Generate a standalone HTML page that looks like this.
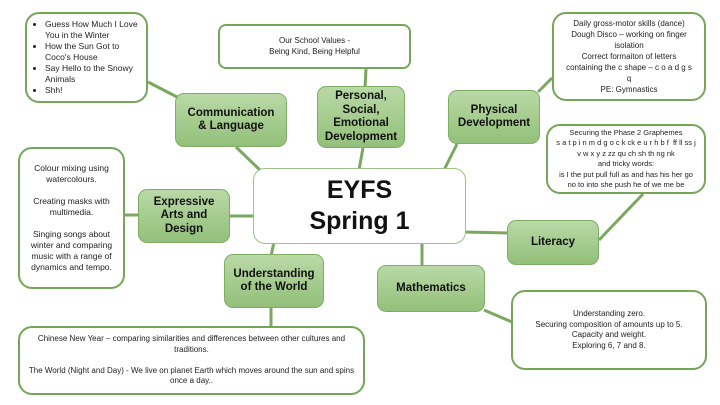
<!DOCTYPE html>
<html><head><meta charset="utf-8"><style>
body{margin:0;width:720px;height:405px;background:#fff;position:relative;overflow:hidden;font-family:"Liberation Sans",sans-serif;color:#222}
.b{position:absolute;box-sizing:border-box;background:#fff;border:2.5px solid #76a65a;border-radius:14px;font-size:8px;line-height:10.5px;text-align:center;display:flex;flex-direction:column;justify-content:center}
.g{position:absolute;box-sizing:border-box;background:linear-gradient(#b9d9a6,#93c07a);border:1.5px solid #80ad66;border-radius:9px;font-weight:bold;font-size:11.5px;line-height:13.5px;text-align:center;display:flex;align-items:center;justify-content:center;color:#111}
svg{position:absolute;left:0;top:0}
</style></head><body>
<svg width="720" height="405"><g stroke="#7aa860" stroke-width="3">
<line x1="148" y1="82" x2="177" y2="97"/><line x1="236" y1="147" x2="262" y2="172"/>
<line x1="366" y1="69" x2="365" y2="88"/><line x1="363" y1="148" x2="359" y2="170"/>
<line x1="457" y1="144" x2="444" y2="170"/><line x1="538" y1="92" x2="552" y2="78"/>
<line x1="464" y1="232" x2="509" y2="233"/><line x1="599" y1="240" x2="643" y2="194"/>
<line x1="125" y1="215" x2="139" y2="215"/><line x1="230" y1="216" x2="255" y2="216"/>
<line x1="274" y1="242" x2="271" y2="256"/><line x1="271" y1="306" x2="271" y2="327"/>
<line x1="422" y1="242" x2="422" y2="267"/><line x1="484" y1="310" x2="512" y2="322"/>
</g></svg>
<div class="b" style="left:25px;top:12px;width:123px;height:91px;text-align:left;padding-left:6px;font-size:8.5px;line-height:11px">
<ul style="margin:0;padding-left:12px"><li>Guess How Much I Love You in the Winter</li><li>How the Sun Got to Coco's House</li><li>Say Hello to the Snowy Animals</li><li>Shh!</li></ul></div>
<div class="b" style="left:218px;top:24px;width:193px;height:45px;border-width:2px;border-radius:8px">Our School Values -<br>Being Kind, Being Helpful</div>
<div class="b" style="left:552px;top:12px;width:154px;height:89px;padding:0 10px;line-height:11px">Daily gross-motor skills (dance) Dough Disco – working on finger isolation<br>Correct formaiton of letters containing the c shape – c o a d g s q<br>PE: Gymnastics</div>
<div class="b" style="left:546px;top:124px;width:160px;height:70px;font-size:7.5px;padding:0 6px">Securing the Phase 2 Graphemes<br>s a t p i n m d g o c k ck e u r h b f &nbsp;ff ll ss j v w x y z zz qu ch sh th ng nk<br>and tricky words:<br>is I the put pull full as and has his her go no to into she push he of we me be</div>
<div class="b" style="left:18px;top:147px;width:107px;height:142px;padding:0 9px;font-size:8.5px;line-height:11px">Colour mixing using watercolours.<br><br>Creating masks with multimedia.<br><br>Singing songs about winter and comparing music with a range of dynamics and tempo.</div>
<div class="b" style="left:18px;top:326px;width:347px;height:69px;padding:0 8px">Chinese New Year – comparing similarities and differences between other cultures and traditions.<br><br>The World (Night and Day) - We live on planet Earth which moves around the sun and spins once a day..</div>
<div class="b" style="left:511px;top:290px;width:196px;height:80px">Understanding zero.<br>Securing composition of amounts up to 5.<br>Capacity and weight.<br>Exploring 6, 7 and 8.</div>
<div class="b" style="left:253px;top:168px;width:213px;height:76px;border:1.5px solid #9cc086;border-radius:12px;font-size:25px;line-height:31px;font-weight:bold;color:#111">EYFS<br>Spring 1</div>
<div class="g" style="left:175px;top:93px;width:112px;height:54px">Communication<br>&amp; Language</div>
<div class="g" style="left:317px;top:86px;width:88px;height:62px">Personal,<br>Social,<br>Emotional<br>Development</div>
<div class="g" style="left:448px;top:90px;width:92px;height:54px">Physical<br>Development</div>
<div class="g" style="left:138px;top:189px;width:92px;height:54px">Expressive<br>Arts and<br>Design</div>
<div class="g" style="left:224px;top:254px;width:100px;height:54px">Understanding<br>of the World</div>
<div class="g" style="left:377px;top:265px;width:108px;height:47px">Mathematics</div>
<div class="g" style="left:507px;top:220px;width:92px;height:45px">Literacy</div>
</body></html>
